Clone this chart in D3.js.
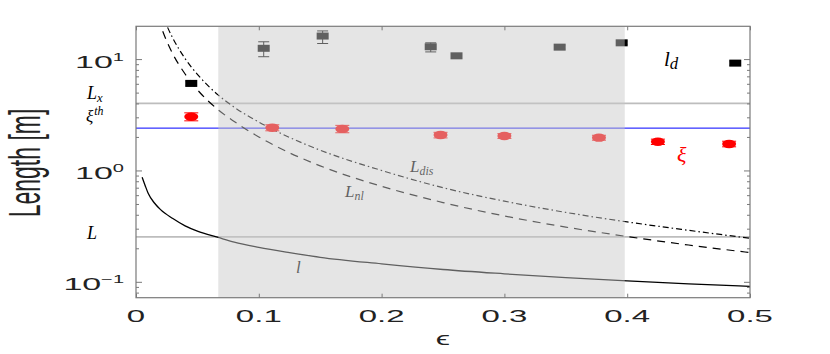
<!DOCTYPE html>
<html>
<head>
<meta charset="utf-8">
<script src="https://cdn.jsdelivr.net/npm/d3@7"></script>
<style>
  body { margin: 0; background: #fff; }
  text { font-family: "Liberation Sans", Arial, sans-serif; }
  .math { font-family: "Liberation Serif", "Times New Roman", serif; font-style: italic; }
</style>
</head>
<body>
<script>
// ---- data ----
// model curves (epsilon grid shared by L_dis and L_nl)
var epsCurve = [0.018, 0.02, 0.025, 0.03, 0.04, 0.05, 0.067, 0.08, 0.1, 0.125, 0.15, 0.2, 0.25, 0.3, 0.35, 0.4, 0.45, 0.5];
var lDis     = [32.6, 27.9, 20.1, 15.4, 10.1, 7.3, 4.75, 3.7, 2.72, 1.98, 1.52, 1.0, 0.70, 0.53, 0.42, 0.345, 0.29, 0.246];
var lNl      = [23.4, 20.1, 14.5, 11.1, 7.35, 5.3, 3.5, 2.75, 2.0, 1.44, 1.1, 0.72, 0.515, 0.39, 0.31, 0.255, 0.214, 0.183];

// small scale l
var epsL   = [0.005, 0.0075, 0.01, 0.015, 0.02, 0.03, 0.04, 0.05, 0.067, 0.08, 0.1, 0.125, 0.15, 0.2, 0.25, 0.3, 0.35, 0.4, 0.45, 0.5];
var lSmall = [0.87, 0.73, 0.62, 0.51, 0.445, 0.37, 0.318, 0.285, 0.25, 0.227, 0.204, 0.183, 0.166, 0.145, 0.129, 0.118, 0.109, 0.102, 0.096, 0.091];

// measured l_d (squares) with error bars
var epsLd = [0.045, 0.104, 0.152, 0.240, 0.261, 0.345, 0.3955, 0.488];
var ld    = [6.05, 12.5, 16.1, 12.9, 10.7, 12.8, 14.0, 9.2];
var ldLo  = [5.75, 10.5, 13.8, 11.6, 10.4, 12.3, 13.5, 8.8];
var ldHi  = [6.35, 14.3, 17.9, 14.0, 11.0, 13.3, 14.5, 9.6];

// measured xi (circles) with error bars
var epsXi = [0.045, 0.111, 0.168, 0.248, 0.300, 0.377, 0.425, 0.483];
var xi    = [3.04, 2.42, 2.36, 2.08, 2.04, 1.97, 1.81, 1.73];
var xiErr = [0.25, 0.15, 0.18, 0.12, 0.10, 0.10, 0.10, 0.10];

// horizontal reference levels
var levelLx = 4.0;
var levelXiTh = 2.4;
var levelL = 0.253;

// shaded epsilon band
var band = [0.067, 0.398];

// ticks
var xTicks = [0, 0.1, 0.2, 0.3, 0.4, 0.5];
var xTickLabels = ['0', '0.1', '0.2', '0.3', '0.4', '0.5'];
var yDecades = [0.1, 1, 10];
var yDecadeExp = ['\u22121', '0', '1'];

// ---- layout ----
var W = 830, H = 354;
var pLeft = 136, pRight = 750, pTop = 26.3, pBottom = 297.7;

var x = d3.scaleLinear().domain([0, 0.5]).range([pLeft, pRight]);
var y = d3.scaleLog().domain([0.072, 19.7]).range([pBottom, pTop]);

var svg = d3.select('body').append('svg')
    .attr('width', W)
    .attr('height', H);

svg.append('clipPath').attr('id', 'plot')
  .append('rect')
    .attr('x', pLeft).attr('y', pTop)
    .attr('width', pRight - pLeft).attr('height', pBottom - pTop);

var plot = svg.append('g').attr('clip-path', 'url(#plot)');

// reference lines
plot.append('line')
    .attr('x1', pLeft).attr('x2', pRight)
    .attr('y1', y(levelLx)).attr('y2', y(levelLx))
    .attr('stroke', '#bdbdbd').attr('stroke-width', 1.6);
plot.append('line')
    .attr('x1', pLeft).attr('x2', pRight)
    .attr('y1', y(levelL)).attr('y2', y(levelL))
    .attr('stroke', '#bdbdbd').attr('stroke-width', 1.6);
plot.append('line')
    .attr('x1', pLeft).attr('x2', pRight)
    .attr('y1', y(levelXiTh)).attr('y2', y(levelXiTh))
    .attr('stroke', '#0000ff').attr('stroke-width', 1);

// curves
var line = d3.line()
    .x(function(d) { return x(d[0]); })
    .y(function(d) { return y(d[1]); })
    .curve(d3.curveMonotoneX);

plot.append('path')
    .attr('d', line(d3.zip(epsCurve, lDis)))
    .attr('fill', 'none').attr('stroke', '#000').attr('stroke-width', 1.2)
    .attr('stroke-dasharray', '6,3,1.5,3');
plot.append('path')
    .attr('d', line(d3.zip(epsCurve, lNl)))
    .attr('fill', 'none').attr('stroke', '#000').attr('stroke-width', 1.2)
    .attr('stroke-dasharray', '8,6');
plot.append('path')
    .attr('d', line(d3.zip(epsL, lSmall)))
    .attr('fill', 'none').attr('stroke', '#000').attr('stroke-width', 1.3);

// error bars helper
function errbar(g, xs, lo, hi, cap, color) {
  var eb = g.selectAll(null).data(d3.range(xs.length)).enter().append('g')
      .attr('stroke', color).attr('stroke-width', 1);
  eb.append('line')
      .attr('x1', function(i) { return x(xs[i]); })
      .attr('x2', function(i) { return x(xs[i]); })
      .attr('y1', function(i) { return y(lo[i]); })
      .attr('y2', function(i) { return y(hi[i]); });
  eb.append('line')
      .attr('x1', function(i) { return x(xs[i]) - cap; })
      .attr('x2', function(i) { return x(xs[i]) + cap; })
      .attr('y1', function(i) { return y(lo[i]); })
      .attr('y2', function(i) { return y(lo[i]); });
  eb.append('line')
      .attr('x1', function(i) { return x(xs[i]) - cap; })
      .attr('x2', function(i) { return x(xs[i]) + cap; })
      .attr('y1', function(i) { return y(hi[i]); })
      .attr('y2', function(i) { return y(hi[i]); });
}

errbar(plot, epsLd, ldLo, ldHi, 5.5, '#000');
plot.selectAll('rect.ld').data(d3.range(epsLd.length)).enter().append('rect')
    .attr('class', 'ld')
    .attr('x', function(i) { return x(epsLd[i]) - 6; })
    .attr('y', function(i) { return y(ld[i]) - 3.5; })
    .attr('width', 12).attr('height', 7)
    .attr('fill', '#000');

var xiLo = xi.map(function(v, i) { return v - xiErr[i]; });
var xiHi = xi.map(function(v, i) { return v + xiErr[i]; });
errbar(plot, epsXi, xiLo, xiHi, 7, '#ff0000');
plot.selectAll('ellipse.xi').data(d3.range(epsXi.length)).enter().append('ellipse')
    .attr('class', 'xi')
    .attr('cx', function(i) { return x(epsXi[i]); })
    .attr('cy', function(i) { return y(xi[i]); })
    .attr('rx', 7).attr('ry', 4.2)
    .attr('fill', '#ff0000');

// in-plot labels
function mathLabel(g, px, py, main, sub, sup, size, color, subScale) {
  var t = g.append('text').attr('class', 'math')
      .attr('x', px).attr('y', py)
      .attr('font-size', size).attr('fill', color);
  t.append('tspan').text(main);
  if (sub) t.append('tspan').attr('font-size', size * (subScale || 0.7)).attr('dy', 3).text(sub);
  if (sup) t.append('tspan').attr('font-size', size * 0.7).attr('dx', 1).attr('dy', -7).text(sup);
  return t;
}
mathLabel(svg, 410, 171.5, 'L', 'dis', null, 17, '#000');
mathLabel(svg, 345, 196.5, 'L', 'nl', null, 17, '#000');
mathLabel(svg, 296, 273, 'l', null, null, 17, '#000');
mathLabel(svg, 664, 66, 'l', 'd', null, 21, '#000', 0.8);
mathLabel(svg, 677, 162, '\u03be', null, null, 22, '#ff0000');

// translucent band on top of data
svg.append('rect')
    .attr('x', x(band[0])).attr('y', pTop)
    .attr('width', x(band[1]) - x(band[0])).attr('height', pBottom - pTop)
    .attr('fill', 'rgb(200,200,200)').attr('fill-opacity', 0.48);

// labels at the left for reference levels
mathLabel(svg, 87, 99.3, 'L', 'x', null, 18, '#000');
mathLabel(svg, 86, 122, '\u03be', null, 'th', 17, '#000');
mathLabel(svg, 87, 239, 'L', null, null, 18, '#000');

// axes box and ticks
var axisColor = '#7a7a7a';
var minor = [];
[0.01, 0.1, 1, 10].forEach(function(dec) {
  for (var k = 2; k <= 9; k++) {
    var v = dec * k;
    if (v > 0.072 && v < 19.7) minor.push(v);
  }
});

function styleAxis(g) {
  g.select('.domain').remove();
  g.selectAll('line').attr('stroke', axisColor);
  g.selectAll('text').remove();
}

svg.append('g').attr('transform', 'translate(' + pLeft + ',0)')
    .call(d3.axisLeft(y).tickValues(yDecades).tickSizeInner(-6).tickSizeOuter(0)).call(styleAxis);
svg.append('g').attr('transform', 'translate(' + pLeft + ',0)')
    .call(d3.axisLeft(y).tickValues(minor).tickSizeInner(-3).tickSizeOuter(0)).call(styleAxis);
svg.append('g').attr('transform', 'translate(' + pRight + ',0)')
    .call(d3.axisRight(y).tickValues(yDecades).tickSizeInner(-6).tickSizeOuter(0)).call(styleAxis);
svg.append('g').attr('transform', 'translate(' + pRight + ',0)')
    .call(d3.axisRight(y).tickValues(minor).tickSizeInner(-3).tickSizeOuter(0)).call(styleAxis);
svg.append('g').attr('transform', 'translate(0,' + pBottom + ')')
    .call(d3.axisBottom(x).tickValues(xTicks).tickSizeInner(-4).tickSizeOuter(0)).call(styleAxis);
svg.append('g').attr('transform', 'translate(0,' + pTop + ')')
    .call(d3.axisTop(x).tickValues(xTicks).tickSizeInner(-4).tickSizeOuter(0)).call(styleAxis);

svg.append('rect')
    .attr('x', pLeft).attr('y', pTop)
    .attr('width', pRight - pLeft).attr('height', pBottom - pTop)
    .attr('fill', 'none').attr('stroke', axisColor).attr('stroke-width', 1.2);

// tick labels (stretched wide as in the picture)
svg.selectAll('text.xt').data(xTicks).enter().append('text')
    .attr('class', 'xt')
    .attr('transform', function(d) { return 'translate(' + x(d) + ',322) scale(2,1)'; })
    .attr('text-anchor', 'middle')
    .attr('font-size', 16.5)
    .attr('fill', '#222')
    .text(function(d, i) { return xTickLabels[i]; });

var yt = svg.selectAll('text.yt').data(yDecades).enter().append('text')
    .attr('class', 'yt')
    .attr('transform', function(d) { return 'translate(124,' + (y(d) + 8.5) + ') scale(2,1)'; })
    .attr('text-anchor', 'end')
    .attr('font-size', 17)
    .attr('fill', '#222');
yt.append('tspan').text('10');
yt.append('tspan').attr('font-size', 10).attr('dy', -7).text(function(d, i) { return yDecadeExp[i]; });

// axis titles
svg.append('text')
    .attr('transform', 'translate(40,163) rotate(-90) scale(1,1.9)')
    .attr('text-anchor', 'middle')
    .attr('font-family', '"Liberation Serif", serif')
    .attr('font-size', 23)
    .attr('fill', '#222')
    .text('Length [m]');

svg.append('text')
    .attr('transform', 'translate(' + x(0.25) + ',345) scale(1.8,1)')
    .attr('text-anchor', 'middle')
    .attr('font-family', '"DejaVu Sans", sans-serif')
    .attr('font-size', 18)
    .attr('fill', '#222')
    .text('\u03f5');
</script>
</body>
</html>
